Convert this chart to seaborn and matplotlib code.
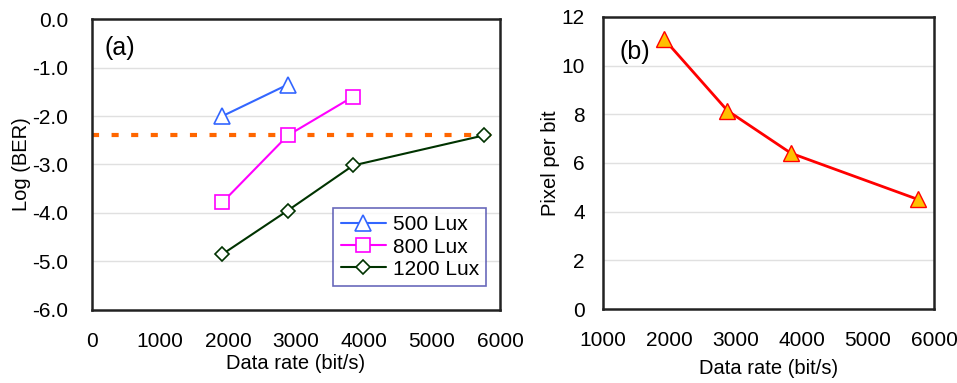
import matplotlib
matplotlib.use("Agg")
import matplotlib.pyplot as plt
import seaborn as sns
import pandas as pd

sns.set_theme(style="white")
plt.rcParams['font.family'] = ['Liberation Sans', 'DejaVu Sans']
plt.rcParams['text.color'] = 'black'
plt.rcParams['axes.labelcolor'] = 'black'

# Data
rate_500 = [1920, 2880]
ber_500 = [-2.0, -1.35]
rate_800 = [1920, 2880, 3840]
ber_800 = [-3.78, -2.4, -1.6]
rate_1200 = [1920, 2880, 3840, 5760]
ber_1200 = [-4.85, -3.95, -3.02, -2.4]
threshold = -2.4
rate_b = [1920, 2880, 3840, 5760]
ppb = [11.1, 8.15, 6.4, 4.5]

fig = plt.figure(figsize=(9.57, 3.83), dpi=100)
ax1 = fig.add_axes([0.096, 0.191, 0.4265, 0.759])
ax2 = fig.add_axes([0.630, 0.193, 0.346, 0.763])

grid_c = '#e0e0e0'
for ax in (ax1, ax2):
    ax.grid(False)
    for s in ax.spines.values():
        s.set_color('#222222')
        s.set_linewidth(1.8)
    ax.tick_params(axis='both', which='both', direction='out', width=1,
                   color='#d0d0d0', labelsize=15, labelcolor='black')
    ax.tick_params(axis='x', length=4, pad=12)

# (a)
ax1.axhline(threshold, color='#ff6600', lw=3, ls=(0, (1.7, 3)), zorder=1)
df500 = pd.DataFrame({'x': rate_500, 'y': ber_500})
df800 = pd.DataFrame({'x': rate_800, 'y': ber_800})
df1200 = pd.DataFrame({'x': rate_1200, 'y': ber_1200})
sns.lineplot(data=df500, x='x', y='y', ax=ax1, color='#3366ff', lw=1.5, marker='^',
             markersize=11, markerfacecolor='white', markeredgecolor='#3366ff',
             markeredgewidth=1.2, label='500 Lux', zorder=3)
sns.lineplot(data=df800, x='x', y='y', ax=ax1, color='#ff00ff', lw=1.5, marker='s',
             markersize=10, markerfacecolor='white', markeredgecolor='#ff00ff',
             markeredgewidth=1.2, label='800 Lux', zorder=3)
sns.lineplot(data=df1200, x='x', y='y', ax=ax1, color='#003300', lw=1.5, marker='D',
             markersize=7.5, markerfacecolor='white', markeredgecolor='#003300',
             markeredgewidth=1.2, label='1200 Lux', zorder=3)
for y in [-1, -2, -3, -4, -5]:
    ax1.axhline(y, color=grid_c, lw=1, zorder=0)
ax1.set_xlim(0, 6000)
ax1.set_ylim(-6, 0)
ax1.set_xticks(range(0, 6001, 1000))
ax1.set_yticks([0, -1, -2, -3, -4, -5, -6])
ax1.set_yticklabels([f"{v:.1f}" for v in [0, -1, -2, -3, -4, -5, -6]])
ax1.tick_params(axis='y', length=7, pad=10)
ax1.set_xlabel('Data rate (bit/s)', fontsize=14.5, labelpad=2, color='black')
ax1.set_ylabel('Log (BER)', fontsize=14.5, labelpad=1, color='black')
ax1.text(0.032, 0.90, '(a)', transform=ax1.transAxes, fontsize=18, va='center', color='black')
leg = ax1.legend(loc='lower right', bbox_to_anchor=(0.966, 0.082), fontsize=15,
                 frameon=True, fancybox=False, borderpad=0.35, handlelength=2.2,
                 handletextpad=0.3, labelspacing=0.15, borderaxespad=0, labelcolor='black')
leg.get_frame().set_edgecolor('#4444aa')
leg.get_frame().set_linewidth(1.2)

# (b)
dfb = pd.DataFrame({'x': rate_b, 'y': ppb})
for y in [2, 4, 6, 8, 10]:
    ax2.axhline(y, color=grid_c, lw=1, zorder=0)
sns.lineplot(data=dfb, x='x', y='y', ax=ax2, color='#ff0000', lw=2, marker='^',
             markersize=11, markerfacecolor='#ffc000', markeredgecolor='#ff0000',
             markeredgewidth=1.0, zorder=3)
ax2.set_xlim(1000, 6000)
ax2.set_ylim(0, 12)
ax2.set_xticks(range(1000, 6001, 1000))
ax2.set_yticks(range(0, 13, 2))
ax2.tick_params(axis='y', length=7, pad=6)
ax2.set_xlabel('Data rate (bit/s)', fontsize=14.5, labelpad=6, color='black')
ax2.set_ylabel('Pixel per bit', fontsize=14.5, labelpad=1, color='black')
ax2.text(0.05, 0.88, '(b)', transform=ax2.transAxes, fontsize=18, va='center', color='black')

fig.savefig('out.png', dpi=100)
